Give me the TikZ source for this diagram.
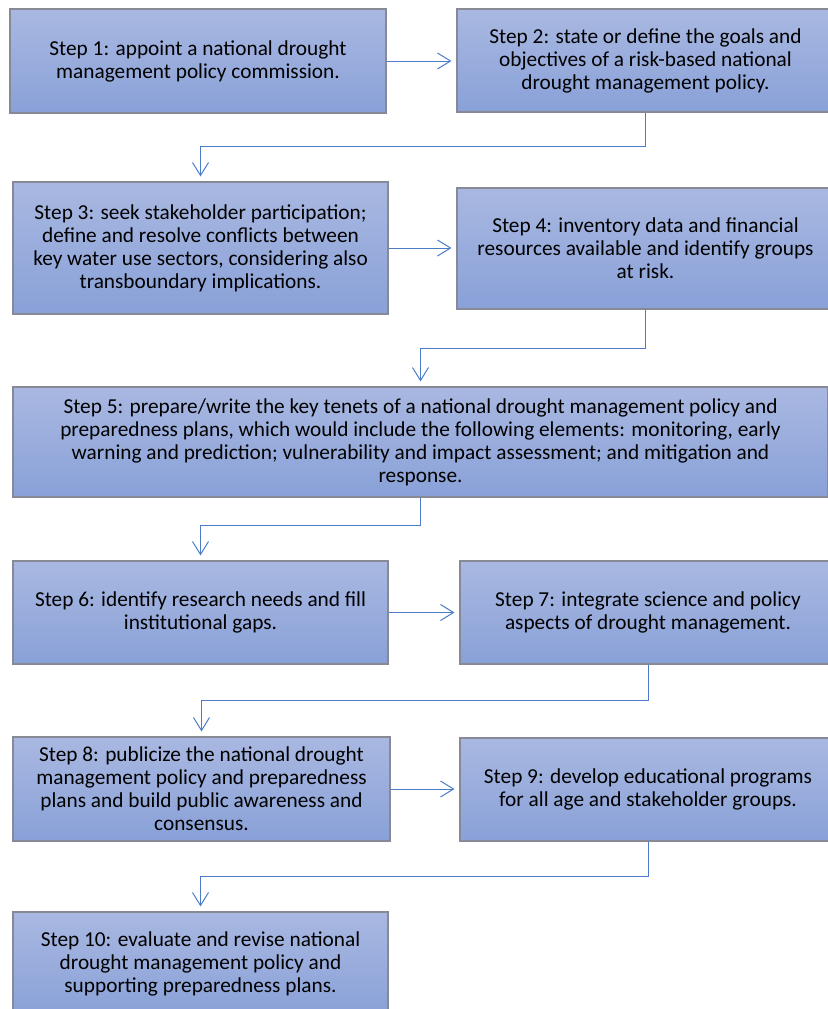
\documentclass[tikz,border=0pt]{standalone}
\usepackage{fontspec}
\setmainfont{Carlito}
\usetikzlibrary{arrows.meta}
\definecolor{boxtop}{RGB}{169,184,225}
\definecolor{boxbot}{RGB}{137,161,216}
\definecolor{boxedge}{RGB}{135,138,150}
\definecolor{linkblue}{RGB}{74,124,200}
\tikzset{
  stepbox/.style={draw=boxedge, line width=1.1bp, top color=boxtop, bottom color=boxbot,
    align=center, inner sep=0pt, text=black,
    font=\fontsize{21.3bp}{23bp}\selectfont},
  link/.style={draw=linkblue, line width=1bp,
    -{Straight Barb[length=13bp,width=16bp,line width=1bp]}, shorten >=5bp}
}
\begin{document}
\begin{tikzpicture}[x=1bp,y=-1bp]
\useasboundingbox (0,0) rectangle (828,1009);
\clip (0,0) rectangle (828,1009);
\node[stepbox, minimum width=376bp, minimum height=104bp] (b1) at (198,61)
  {Step 1: appoint a national drought\\management policy commission.};
\node[stepbox, minimum width=377bp, minimum height=103bp] (b2) at (645.5,60.5)
  {Step 2: state or define the goals and\\objectives of a risk-based national\\drought management policy.};
\node[stepbox, minimum width=375bp, minimum height=132bp] (b3) at (200.5,248)
  {Step 3: seek stakeholder participation;\\define and resolve conflicts between\\key water use sectors, considering also\\transboundary implications.};
\node[stepbox, minimum width=377bp, minimum height=121bp] (b4) at (645.5,248.5)
  {Step 4: inventory data and financial\\resources available and identify groups\\at risk.};
\node[stepbox, minimum width=815bp, minimum height=110bp] (b5) at (420.5,442)
  {Step 5: prepare/write the key tenets of a national drought management policy and\\preparedness plans, which would include the following elements: monitoring, early\\warning and prediction; vulnerability and impact assessment; and mitigation and\\response.};
\node[stepbox, minimum width=375bp, minimum height=103bp] (b6) at (200.5,612.5)
  {Step 6: identify research needs and fill\\institutional gaps.};
\node[stepbox, minimum width=376bp, minimum height=103bp] (b7) at (648,612.5)
  {Step 7: integrate science and policy\\aspects of drought management.};
\node[stepbox, minimum width=377bp, minimum height=104bp] (b8) at (201.5,789)
  {Step 8: publicize the national drought\\management policy and preparedness\\plans and build public awareness and\\consensus.};
\node[stepbox, minimum width=376bp, minimum height=103bp] (b9) at (648,789.5)
  {Step 9: develop educational programs\\for all age and stakeholder groups.};
\node[stepbox, minimum width=375bp, minimum height=104bp] (b10) at (200.5,964)
  {Step 10: evaluate and revise national\\drought management policy and\\supporting preparedness plans.};
\draw[link] (b1.east) -- (b1.east -| b2.west);
\draw[link] (b2.south) -- (b2.south |- 0,146.5) -| (b3.north);
\draw[link] (b3.east) -- (b3.east -| b4.west);
\draw[link] (b4.south) -- (b4.south |- 0,348) -| (b5.north);
\draw[link] (b5.south) -- (b5.south |- 0,525) -| (b6.north);
\draw[link] (b6.east) -- (b6.east -| b7.west);
\draw[link] (b7.south) -- (b7.south |- 0,700.5) -| (b8.north);
\draw[link] (b8.east) -- (b8.east -| b9.west);
\draw[link] (b9.south) -- (b9.south |- 0,876) -| (b10.north);
\end{tikzpicture}
\end{document}
